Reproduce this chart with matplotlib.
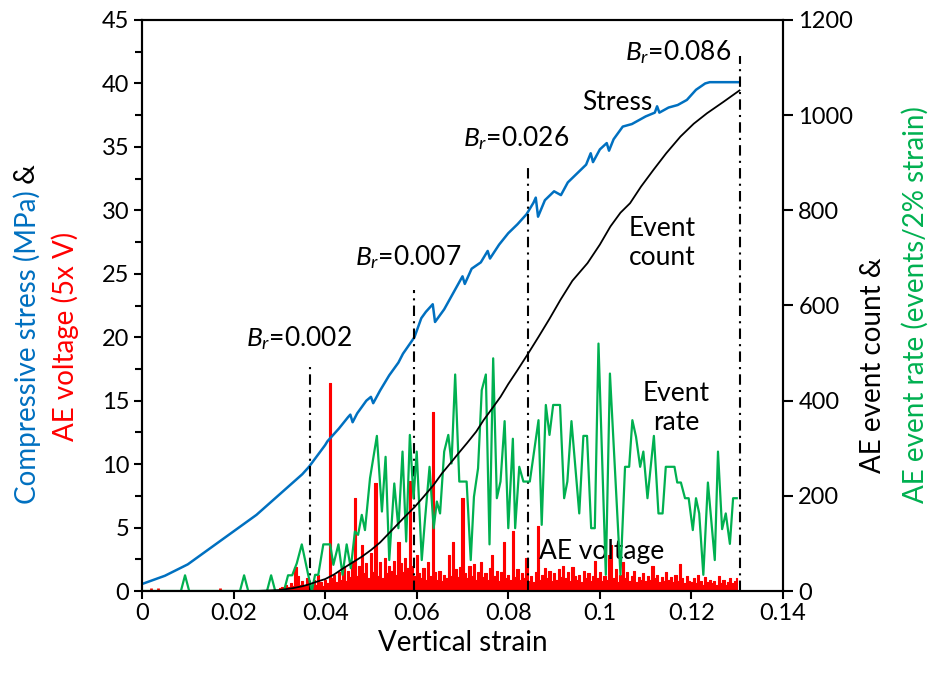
import matplotlib
matplotlib.use('Agg')
import matplotlib.pyplot as plt
import numpy as np
from matplotlib.ticker import MultipleLocator

plt.rcParams['font.family'] = ['Lato', 'DejaVu Sans']
plt.rcParams['mathtext.fontset'] = 'custom'
plt.rcParams['mathtext.rm'] = 'Lato'
plt.rcParams['mathtext.it'] = 'Lato:italic'

# ---------------- data ----------------
stress_strain = [0.000, 0.005, 0.010, 0.015, 0.020, 0.025, 0.030, 0.035, 0.0365, 0.040,
                 0.0405, 0.043, 0.045, 0.0455, 0.046, 0.047, 0.049, 0.050, 0.0505, 0.052,
                 0.054, 0.056, 0.057, 0.0595, 0.061, 0.062, 0.0635, 0.064, 0.066, 0.068,
                 0.070, 0.0705, 0.072, 0.074, 0.0755, 0.076, 0.078, 0.080, 0.082, 0.084,
                 0.0855, 0.086, 0.0865, 0.088, 0.090, 0.0915, 0.093, 0.095, 0.097, 0.098,
                 0.0985, 0.100, 0.1015, 0.102, 0.103, 0.105, 0.107, 0.109, 0.110, 0.112,
                 0.1125, 0.113, 0.115, 0.117, 0.119, 0.121, 0.123, 0.124, 0.126, 0.1305]
stress_mpa = [0.55, 1.2, 2.1, 3.4, 4.7, 6.0, 7.6, 9.2, 9.8, 11.5,
              11.8, 12.8, 13.7, 13.9, 13.3, 14.0, 15.0, 15.3, 14.8, 15.8,
              17.0, 18.0, 18.7, 20.0, 21.5, 22.0, 22.6, 21.2, 22.2, 23.5,
              24.8, 24.2, 25.4, 25.9, 26.8, 26.2, 27.3, 28.2, 28.9, 29.7,
              30.6, 31.0, 29.5, 30.8, 31.5, 31.2, 32.2, 32.9, 33.6, 34.5,
              33.8, 34.8, 35.3, 34.7, 35.6, 36.6, 36.8, 37.2, 37.4, 37.7,
              38.2, 37.7, 38.1, 38.3, 38.7, 39.5, 40.0, 40.1, 40.1, 40.1]

count_strain = [0.000, 0.025, 0.030, 0.033, 0.035, 0.0365, 0.038, 0.040, 0.042, 0.044,
                0.046, 0.048, 0.050, 0.052, 0.054, 0.056, 0.0575, 0.0595, 0.0615, 0.0637,
                0.0655, 0.0674, 0.069, 0.071, 0.073, 0.0746, 0.0765, 0.0783, 0.080, 0.082,
                0.0844, 0.0866, 0.089, 0.0914, 0.094, 0.0973, 0.100, 0.1023, 0.1045, 0.1066,
                0.109, 0.1117, 0.1145, 0.1176, 0.1205, 0.1234, 0.127, 0.1305]
event_count = [0, 0, 2, 6, 10, 14, 19, 25, 35, 48,
               60, 72, 86, 102, 122, 142, 157, 176, 198, 223,
               247, 269, 288, 311, 335, 359, 384, 408, 435, 464,
               500, 534, 572, 612, 652, 689, 728, 766, 795, 815,
               850, 885, 920, 955, 982, 1004, 1028, 1052]

rate_strain = [0.0, 0.0085, 0.0094, 0.0103, 0.0214, 0.0223, 0.0232, 0.0273, 0.0282, 0.0291,
               0.0310, 0.0319, 0.0328, 0.0338, 0.0349, 0.0363, 0.0371, 0.0378, 0.0385, 0.0396,
               0.0411, 0.0418, 0.0429, 0.0438, 0.0447, 0.0456, 0.0465, 0.0472, 0.0480, 0.0487,
               0.0498, 0.0513, 0.0524, 0.0532, 0.0540, 0.0551, 0.0560, 0.0569, 0.0577, 0.0585,
               0.0593, 0.0600, 0.0611, 0.0618, 0.0628, 0.0637, 0.0644, 0.0651, 0.0660, 0.0669,
               0.0676, 0.0684, 0.0693, 0.0709, 0.0718, 0.0725, 0.0734, 0.0742, 0.0751, 0.0759,
               0.0767, 0.0775, 0.0783, 0.0792, 0.0800, 0.0810, 0.0815, 0.0824, 0.0833, 0.0847,
               0.0866, 0.0873, 0.0882, 0.0890, 0.0898, 0.0913, 0.0922, 0.0929, 0.0938, 0.0955,
               0.0964, 0.0972, 0.0981, 0.0989, 0.0997, 0.1013, 0.1022, 0.1045, 0.1055, 0.1064,
               0.1071, 0.1079, 0.1088, 0.1095, 0.1104, 0.1118, 0.1128, 0.1137, 0.1144, 0.1163,
               0.1169, 0.1177, 0.1186, 0.1194, 0.1203, 0.1210, 0.1217, 0.1226, 0.1236, 0.1242,
               0.1251, 0.1258, 0.1267, 0.1275, 0.1284, 0.1291, 0.1299]
event_rate = [0, 0, 33, 0, 0, 33, 0, 0, 33, 0,
              0, 33, 33, 58, 98, 34, 0, 34, 34, 98,
              98, 55, 98, 34, 98, 48, 125, 118, 160, 128,
              237, 326, 167, 282, 65, 226, 132, 293, 104, 328,
              195, 293, 65, 149, 261, 132, 188, 163, 293, 328,
              268, 455, 230, 230, 65, 198, 258, 422, 455, 98,
              489, 195, 230, 357, 132, 320, 132, 261, 230, 230,
              359, 139, 391, 328, 391, 391, 195, 230, 357, 163,
              326, 326, 132, 132, 520, 34, 457, 34, 261, 261,
              359, 324, 261, 293, 195, 326, 163, 163, 261, 261,
              228, 228, 195, 195, 128, 195, 163, 34, 228, 163,
              65, 293, 130, 163, 99, 195, 195]

ae_early_strain = [0.002, 0.0035, 0.017, 0.0290]
ae_early_volt = [0.25, 0.2, 0.2, 0.1]
ae_main_volt = [
    0.2, 0.3, 0.2, 0.5, 0.3, 0.6, 0.4, 1.9, 1.2, 0.5,
    0.8, 0.4, 1.0, 0.6, 0.3, 0.9, 0.5, 1.3, 0.7, 0.4,
    0.9, 0.6, 16.4, 1.0, 1.3, 0.7, 1.5, 0.9, 2.0, 0.8,
    1.6, 1.1, 2.4, 7.3, 1.2, 2.0, 3.6, 1.4, 2.2, 1.0,
    3.0, 1.5, 8.5, 1.2, 2.3, 1.0, 2.6, 1.4, 2.0, 1.6,
    2.4, 1.3, 3.9, 2.2, 1.5, 2.6, 1.8, 8.7, 2.0, 1.2,
    2.8, 1.4, 1.0, 1.8, 0.9, 2.3, 1.2, 14.1, 1.5, 0.9,
    1.6, 0.8, 1.3, 1.0, 2.8, 1.2, 3.9, 1.7, 1.1, 1.9,
    7.3, 1.4, 1.0, 2.0, 1.2, 2.1, 0.9, 1.5, 2.3, 1.1,
    1.4, 0.9, 1.8, 2.8, 1.2, 1.6, 0.8, 1.5, 3.9, 1.0,
    1.3, 0.9, 4.7, 1.1, 1.7, 0.9, 1.4, 1.0, 2.6, 0.8,
    1.2, 0.7, 1.5, 5.1, 0.9, 1.3, 1.8, 1.0, 1.6, 0.8,
    1.4, 0.9, 1.7, 1.1, 2.0, 1.0, 1.5, 0.8, 1.9, 1.2,
    0.9, 1.3, 0.7, 1.6, 1.0, 1.4, 0.8, 1.2, 2.4, 1.0,
    1.5, 0.8, 1.2, 0.9, 2.8, 3.6, 1.0, 1.7, 0.7, 1.3,
    2.3, 1.0, 1.5, 0.8, 1.2, 1.6, 0.7, 1.1, 0.9, 1.4,
    0.8, 1.2, 0.9, 2.0, 1.0, 1.3, 0.7, 1.1, 0.8, 1.5,
    0.9, 1.1, 0.7, 1.3, 0.8, 2.1, 1.0, 0.6, 1.2, 0.8,
    0.7, 1.0, 0.6, 1.3, 0.8, 0.5, 1.1, 0.7, 0.9, 0.6,
    0.8, 0.5, 1.2, 0.6, 0.9, 0.5, 0.7, 1.0, 0.6, 0.8,
    1.0]
ae_main_strain = list(0.030 + 0.0005 * np.arange(len(ae_main_volt)))

br_strain = [0.0366, 0.0595, 0.0844, 0.1306]
br_top = [17.8, 23.7, 33.7, 42.2]
br_labels = ['0.002', '0.007', '0.026', '0.086']

x_ticks = [0, 0.02, 0.04, 0.06, 0.08, 0.1, 0.12, 0.14]
x_ticklabels = ['0', '0.02', '0.04', '0.06', '0.08', '0.1', '0.12', '0.14']

# ---------------- figure ----------------
W, H = 932, 677
fig = plt.figure(figsize=(W / 100, H / 100), dpi=100)
ax1 = fig.add_axes([142 / W, 1 - 591 / H, (783 - 142) / W, (591 - 20) / H])
ax2 = ax1.twinx()

BLUE = '#0070C0'
RED = '#FF0000'
GREEN = '#00B050'

ax1.fill_between(ae_main_strain, 0, ae_main_volt, step='mid', color=RED, lw=0.8,
                 edgecolor=RED, zorder=1)
ax1.vlines(ae_early_strain, 0, ae_early_volt, color=RED, lw=2.0, zorder=1)
ax1.plot(stress_strain, stress_mpa, color=BLUE, lw=1.8, zorder=3)

for xs, top in zip(br_strain, br_top):
    ax1.plot([xs, xs], [0, top], color='black', lw=1.5,
             ls=(0, (5, 2.5, 1, 2.5)), zorder=4)

ax2.plot(rate_strain, event_rate, color=GREEN, lw=1.6, zorder=2)
ax2.plot(count_strain, event_count, color='black', lw=1.3, zorder=3)

ax1.set_xlim(0, 0.14)
ax1.set_ylim(0, 45)
ax2.set_ylim(0, 1200)
ax1.set_xticks(x_ticks)
ax1.set_xticklabels(x_ticklabels)
ax1.yaxis.set_major_locator(MultipleLocator(5))
ax1.yaxis.set_minor_locator(MultipleLocator(2.5))
ax2.yaxis.set_major_locator(MultipleLocator(200))

for ax in (ax1, ax2):
    for sp in ax.spines.values():
        sp.set_linewidth(1.5)
ax1.tick_params(axis='both', which='major', direction='out', length=6, width=1.5,
                labelsize=17, pad=3)
ax1.tick_params(axis='y', which='minor', direction='out', length=5, width=1.5)
ax2.tick_params(axis='y', which='major', direction='out', length=7, width=1.5,
                labelsize=17, pad=4)

ax1.set_xlabel('Vertical strain', fontsize=20, labelpad=4)

# annotations
lab_pos = [(0.0343, 19.9), (0.0581, 26.3), (0.0817, 35.7), (0.1171, 42.5)]
for (tx, ty), lab in zip(lab_pos, br_labels):
    ax1.text(tx, ty, r'$B_r$=' + lab, fontsize=19, ha='center', va='center')
ax1.text(0.1037, 38.5, 'Stress', fontsize=19, ha='center', va='center')
ax1.text(0.1136, 27.4, 'Event\ncount', fontsize=19, ha='center', va='center', linespacing=1.2)
ax1.text(0.1166, 14.4, 'Event\nrate', fontsize=19, ha='center', va='center', linespacing=1.2)
ax1.text(0.1003, 3.15, 'AE voltage', fontsize=19, ha='center', va='center')


def vertical_multicolor(x_px, yc_px, parts, size):
    renderer = fig.canvas.get_renderer()
    objs = []
    heights = []
    for s, c in parts:
        t = fig.text(x_px / W, 0, s, color=c, rotation=90, ha='center', va='bottom',
                     fontsize=size)
        bb = t.get_window_extent(renderer)
        objs.append(t)
        heights.append(bb.height)
    total = sum(heights)
    y = (H - yc_px) - total / 2
    for t, h in zip(objs, heights):
        t.set_y(y / H)
        y += h


vertical_multicolor(27, 334, [('Compressive stress (MPa)', BLUE), (' &', 'black')], 20)
vertical_multicolor(65, 336, [('AE voltage (5x V)', RED)], 20)
vertical_multicolor(873, 365, [('AE event count &', 'black')], 20)
vertical_multicolor(915, 305, [('AE event rate (events/2% strain)', GREEN)], 20)

fig.savefig('out.png', dpi=100)
